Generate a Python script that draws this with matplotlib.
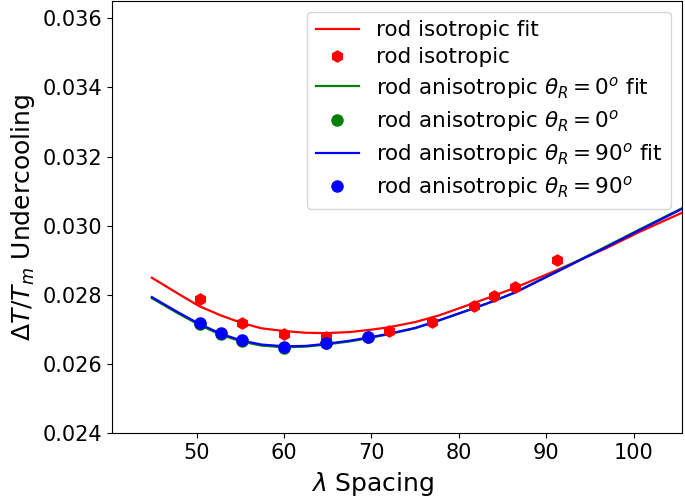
import numpy as np
import matplotlib
matplotlib.use("Agg")
import matplotlib.pyplot as plt

# fit curves
iso_fit_x = [44.9, 47.9, 50.3, 52.8, 55.1, 57.4, 60.0, 62.5, 64.8, 67.5, 70.0, 72.0, 75.0,
             77.7, 81.5, 84.0, 86.5, 91.1, 96.8, 100.6, 105.5]
iso_fit = [0.02850, 0.02804, 0.02768, 0.02741, 0.02720, 0.02704, 0.02696, 0.02691, 0.02690,
           0.02693, 0.02700, 0.02707, 0.02722, 0.02741, 0.02775, 0.02798, 0.02822, 0.02871,
           0.02935, 0.02982, 0.03038]

aniso_fit_x = [44.9, 47.9, 50.3, 52.8, 55.1, 57.4, 60.0, 62.5, 64.8, 67.5, 69.6, 72.0, 75.0,
               77.7, 81.5, 84.0, 86.5, 91.1, 96.8, 100.6, 105.5]
aniso0_fit = [0.02791, 0.02747, 0.02714, 0.02685, 0.02666, 0.02654, 0.02649, 0.02651, 0.02657,
              0.02666, 0.02675, 0.02687, 0.02704, 0.02726, 0.02760, 0.02783, 0.02809, 0.02867,
              0.02940, 0.02989, 0.03051]
aniso90_fit = [0.02794, 0.02750, 0.02717, 0.02688, 0.02669, 0.02657, 0.02652, 0.02653, 0.02659,
               0.02668, 0.02677, 0.02688, 0.02705, 0.02727, 0.02760, 0.02783, 0.02808, 0.02866,
               0.02938, 0.02987, 0.03049]

# measured points
iso_x = [50.4, 55.2, 60.0, 64.8, 72.0, 76.9, 81.7, 84.0, 86.4, 91.2]
iso_y = [0.02789, 0.02719, 0.02688, 0.02678, 0.02696, 0.02722, 0.02768, 0.02796, 0.02823, 0.02902]
aniso_x = [50.4, 52.8, 55.2, 60.0, 64.8, 69.6]
aniso0_y = [0.02716, 0.02688, 0.02666, 0.02647, 0.02660, 0.02678]
aniso90_y = [0.02719, 0.02691, 0.02669, 0.02650, 0.02662, 0.02680]

fig = plt.figure(figsize=(6.85, 5.04), dpi=100)
ax = fig.add_axes([0.163, 0.140, 0.8326, 0.858])

ax.plot(iso_fit_x, iso_fit, color='r', lw=1.6, label='rod isotropic fit')
ax.plot(iso_x, iso_y, 'h', color='r', markersize=8, zorder=3, label='rod isotropic')
ax.plot(aniso_fit_x, aniso0_fit, color='g', lw=1.6, label=r'rod anisotropic $\theta_R = 0^o$ fit')
ax.plot(aniso_x, aniso0_y, 'o', color='g', markersize=8, zorder=3, label=r'rod anisotropic $\theta_R = 0^o$')
ax.plot(aniso_fit_x, aniso90_fit, color='b', lw=1.6, label=r'rod anisotropic $\theta_R = 90^o$ fit')
ax.plot(aniso_x, aniso90_y, 'o', color='b', markersize=8, zorder=3, label=r'rod anisotropic $\theta_R = 90^o$')

ax.set_xlim(40.3, 105.5)
ax.set_ylim(0.024, 0.0365)
ax.set_xticks(np.arange(50, 101, 10))
ax.set_yticks(np.arange(0.024, 0.0361, 0.002))
ax.tick_params(labelsize=15)
ax.set_xlabel(r'$\lambda$ Spacing', fontsize=18)
ax.xaxis.set_label_coords(0.458, -0.085)
ax.set_ylabel(r'$\Delta T/T_m$ Undercooling', fontsize=18)
ax.legend(loc='upper right', fontsize=15.5, labelspacing=0.33)

fig.savefig('out.png', dpi=100)
